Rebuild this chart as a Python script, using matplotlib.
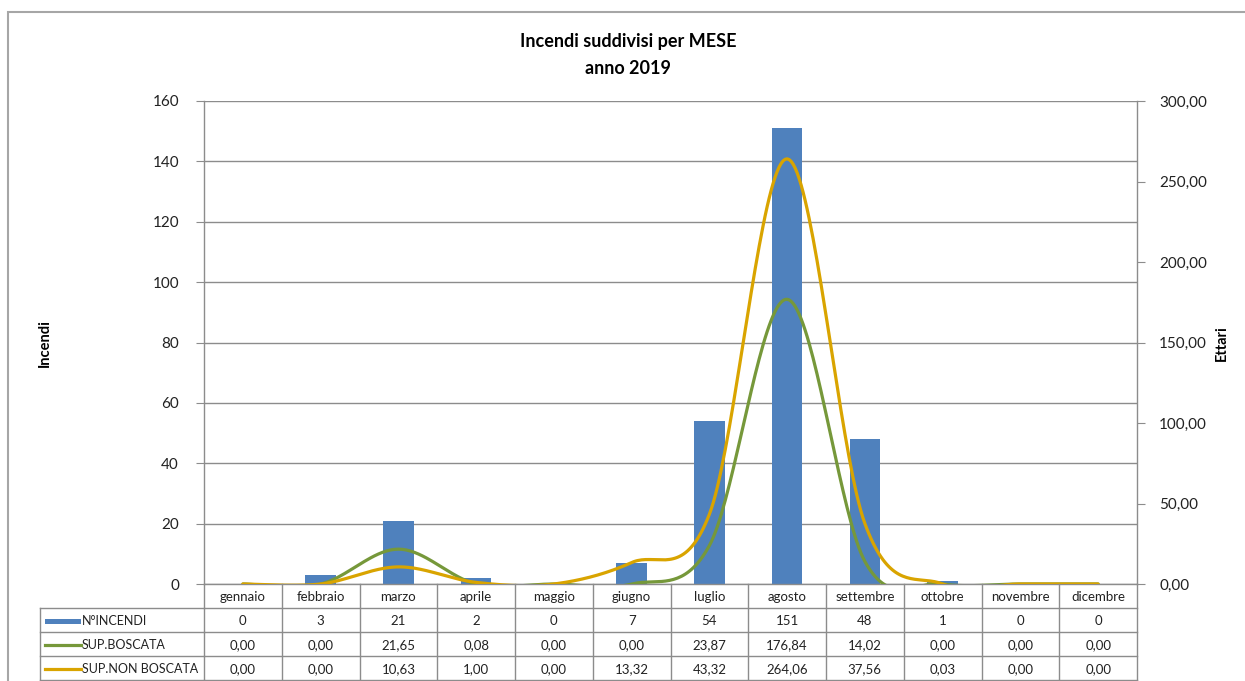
import numpy as np
import matplotlib
matplotlib.use("Agg")
import matplotlib.pyplot as plt
from matplotlib.transforms import blended_transform_factory
from matplotlib.lines import Line2D
from matplotlib.patches import Rectangle

# --- data -------------------------------------------------------------
mesi = ["gennaio", "febbraio", "marzo", "aprile", "maggio", "giugno",
        "luglio", "agosto", "settembre", "ottobre", "novembre", "dicembre"]
n_incendi = [0, 3, 21, 2, 0, 7, 54, 151, 48, 1, 0, 0]
sup_boscata = [0.00, 0.00, 21.65, 0.08, 0.00, 0.00, 23.87, 176.84, 14.02, 0.00, 0.00, 0.00]
sup_non_boscata = [0.00, 0.00, 10.63, 1.00, 0.00, 13.32, 43.32, 264.06, 37.56, 0.03, 0.00, 0.00]

series_names = ["N°INCENDI", "SUP.BOSCATA", "SUP.NON BOSCATA"]
left_ticks = [0, 20, 40, 60, 80, 100, 120, 140, 160]
right_ticks = [0, 50, 100, 150, 200, 250, 300]

BLUE = "#4F81BD"
GREEN = "#76983A"
GOLD = "#D9A400"
GRID = "#8C8C8C"
FONT = ["Lato", "DejaVu Sans"]

W, H = 1245, 681
plt.rcParams["font.family"] = FONT


def smooth(xs, ys, n=40):
    """Catmull-Rom style Bezier smoothing through every point."""
    xs = np.asarray(xs, float)
    ys = np.asarray(ys, float)
    px = np.concatenate([[xs[0]], xs, [xs[-1]]])
    py = np.concatenate([[ys[0]], ys, [ys[-1]]])
    ox, oy = [], []
    t = np.linspace(0, 1, n)
    for i in range(1, len(px) - 2):
        p0 = np.array([px[i], py[i]])
        p3 = np.array([px[i + 1], py[i + 1]])
        p1 = p0 + (np.array([px[i + 1], py[i + 1]]) - np.array([px[i - 1], py[i - 1]])) / 6
        p2 = p3 - (np.array([px[i + 2], py[i + 2]]) - np.array([px[i], py[i]])) / 6
        b = ((1 - t) ** 3)[:, None] * p0 + (3 * (1 - t) ** 2 * t)[:, None] * p1 \
            + (3 * (1 - t) * t ** 2)[:, None] * p2 + (t ** 3)[:, None] * p3
        ox.extend(b[:, 0]); oy.extend(b[:, 1])
    return np.array(ox), np.array(oy)


fig = plt.figure(figsize=(W / 100, H / 100), dpi=100)

# plot area in pixels
L, R, T, B = 204, 1137, 101, 584
ax = fig.add_axes([L / W, (H - B) / H, (R - L) / W, (B - T) / H])
x = np.arange(len(mesi))

ax.bar(x, n_incendi, width=0.39, color=BLUE, zorder=2)
ax.set_xlim(-0.5, len(mesi) - 0.5)
ax.set_ylim(0, 160)
ax.set_yticks(left_ticks)
ax.set_yticklabels([str(v) for v in left_ticks], fontsize=11, color="#222222")
ax.tick_params(axis="y", direction="out", length=6, color=GRID, pad=12)
ax.set_xticks([])
ax.grid(axis="y", color=GRID, linewidth=1.0, zorder=0)
ax.set_axisbelow(True)
for s in ["top", "right"]:
    ax.spines[s].set_visible(False)
for s in ["left", "bottom"]:
    ax.spines[s].set_color(GRID)
    ax.spines[s].set_linewidth(1.0)

ax2 = ax.twinx()
ax2.set_ylim(0, 300)
ax2.set_yticks(right_ticks)
ax2.set_yticklabels([f"{v:.2f}".replace(".", ",") for v in right_ticks],
                    fontsize=11, color="#222222")
ax2.tick_params(axis="y", direction="out", length=6, color=GRID, pad=10)
for s in ["top", "left", "bottom"]:
    ax2.spines[s].set_visible(False)
ax2.spines["right"].set_color(GRID)
ax2.spines["right"].set_linewidth(1.0)

sx, sy = smooth(x, sup_boscata)
ax2.plot(sx, sy, color=GREEN, lw=2.3, zorder=3, solid_capstyle="round")
sx, sy = smooth(x, sup_non_boscata)
ax2.plot(sx, sy, color=GOLD, lw=2.3, zorder=4, solid_capstyle="round")

# axis titles
fig.text(45 / W, 1 - 343 / H, "Incendi", rotation=90, ha="center", va="center",
         fontsize=10.5, fontweight="bold")
fig.text(1222 / W, 1 - 343 / H, "Ettari", rotation=90, ha="center", va="center",
         fontsize=10.5, fontweight="bold")

# chart title
fig.text(628 / W, 1 - 41 / H, "Incendi suddivisi per MESE", ha="center", va="center",
         fontsize=13, fontweight="bold")
fig.text(628 / W, 1 - 68 / H, "anno 2019", ha="center", va="center",
         fontsize=13, fontweight="bold")

# --- data table below the plot ---------------------------------------
tr = blended_transform_factory(ax.transData, fig.transFigure)


def fy(ypx):
    return 1 - ypx / H


def fx(xpx):
    return xpx / W


rows_y = [B, 608, 632, 656, 680]
edges = np.arange(len(mesi) + 1) - 0.5
line_kw = dict(color=GRID, lw=1.0)

# vertical separators of the month columns
for e in edges:
    fig.add_artist(Line2D([e, e], [fy(B), fy(rows_y[-1])], transform=tr, **line_kw))
# horizontal lines across month columns
for yy in rows_y[1:]:
    fig.add_artist(Line2D([edges[0], edges[-1]], [fy(yy), fy(yy)], transform=tr, **line_kw))
# series label column
TL = 40
for yy in rows_y[1:]:
    fig.add_artist(Line2D([fx(TL), fx(L)], [fy(yy), fy(yy)], **line_kw))
fig.add_artist(Line2D([fx(TL), fx(TL)], [fy(rows_y[1]), fy(rows_y[-1])], **line_kw))

for i, m in enumerate(mesi):
    fig.text(i, fy((rows_y[0] + rows_y[1]) / 2 + 1), m, transform=tr,
             ha="center", va="center", fontsize=9.5, color="#222222")

table_vals = [
    [str(v) for v in n_incendi],
    [f"{v:.2f}".replace(".", ",") for v in sup_boscata],
    [f"{v:.2f}".replace(".", ",") for v in sup_non_boscata],
]
key_colors = [BLUE, GREEN, GOLD]
for r, vals in enumerate(table_vals):
    yc = fy((rows_y[r + 1] + rows_y[r + 2]) / 2 + 1)
    for i, v in enumerate(vals):
        fig.text(i, yc, v, transform=tr, ha="center", va="center",
                 fontsize=9.5, color="#222222")
    if r == 0:
        fig.add_artist(Rectangle((fx(45), yc - 2.5 / H), 36 / W, 5 / H,
                                 color=key_colors[r], lw=0))
    else:
        fig.add_artist(Line2D([fx(45), fx(81)], [yc, yc], color=key_colors[r], lw=2.3))
    fig.text(fx(82), yc, series_names[r], ha="left", va="center",
             fontsize=9, color="#222222")

# outer chart border
fig.add_artist(Rectangle((fx(8), -0.05), 1.1, fy(12) + 0.05, fill=False,
                         edgecolor="#A6A6A6", lw=1.5))

fig.savefig("out.png", dpi=100)
